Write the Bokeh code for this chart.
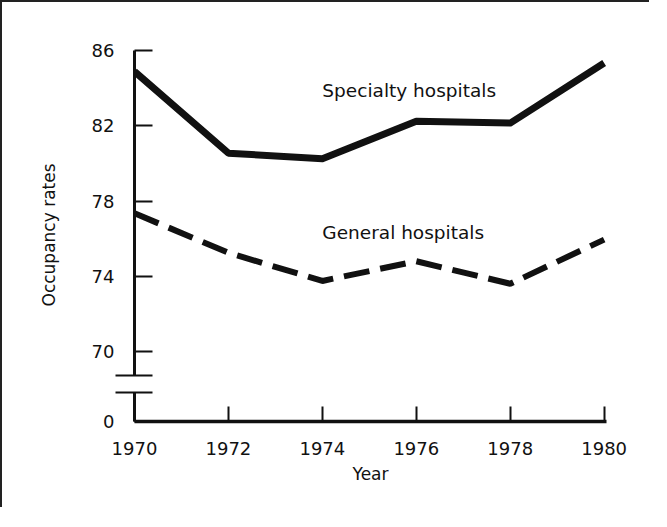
from bokeh.plotting import figure
from bokeh.models import FixedTicker, Range1d
from bokeh.embed import file_html
from bokeh.resources import INLINE
from bokeh.core.properties import value

# ---- data ----
years = [1970, 1972, 1974, 1976, 1978, 1980]
specialty = [84.9, 80.55, 80.25, 82.25, 82.15, 85.35]
general = [77.35, 75.25, 73.75, 74.8, 73.6, 75.95]
y_ticks = [70, 74, 78, 82, 86]
y_tick_labels = ["70", "74", "78", "82", "86"]
x_tick_labels = ["1970", "1972", "1974", "1976", "1978", "1980"]
zero_label = "0"
series_labels = ["Specialty hospitals", "General hospitals"]
label_x = [1974.0, 1974.0]
label_y = [83.9, 76.35]

# broken-axis layout (value 0 drawn just below the break)
ZERO = 66.27
BREAK_HI, BREAK_LO = 68.72, 67.82
FONT = "DejaVu Sans"
INK = "#111111"

p = figure(width=649, height=507,
           x_range=Range1d(1970, 1980.05), y_range=Range1d(ZERO, 86.12),
           output_backend="svg", toolbar_location=None,
           min_border_left=132, min_border_right=45,
           min_border_top=46, min_border_bottom=88)
p.outline_line_color = None
p.grid.visible = False
p.background_fill_color = "white"
p.border_fill_color = "white"
p.styles = {"border-top": "2px solid #222", "border-left": "2px solid #222"}

yt = [ZERO] + y_ticks
p.yaxis.ticker = FixedTicker(ticks=yt, minor_ticks=[BREAK_LO, BREAK_HI])
ov = {ZERO: zero_label}
ov.update({t: l for t, l in zip(y_ticks, y_tick_labels)})
p.yaxis.major_label_overrides = ov
p.xaxis.ticker = FixedTicker(ticks=years)
p.xaxis.major_label_overrides = {y: l for y, l in zip(years, x_tick_labels)}

for ax in (p.xaxis[0], p.yaxis[0]):
    ax.axis_line_color = INK
    ax.axis_line_width = 3
    ax.major_tick_out = 0
    ax.major_tick_line_color = INK
    ax.major_tick_line_width = 2
    ax.major_label_text_font = FONT
    ax.major_label_text_font_size = "18px"
    ax.major_label_text_color = INK
    ax.axis_label_text_font = FONT
    ax.axis_label_text_font_size = "17px"
    ax.axis_label_text_font_style = "normal"
    ax.axis_label_text_color = INK

p.xaxis.minor_tick_line_color = None

# y axis: gap in the line at the break, break marks as minor ticks
p.yaxis.bounds = (ZERO, 86)
p.yaxis.axis_line_dash = "29 17 330"
p.yaxis.major_tick_in = 18
p.yaxis.minor_tick_in = 18
p.yaxis.minor_tick_out = 19
p.yaxis.minor_tick_line_width = 2
p.yaxis.minor_tick_line_color = INK
p.yaxis.major_label_standoff = 1
p.yaxis.axis_label = "Occupancy rates"
p.yaxis.axis_label_standoff = 30

p.xaxis.axis_line_width = 3.5
p.xaxis.major_tick_in = 15
p.xaxis.major_label_standoff = 20
p.xaxis.axis_label = "Year"
p.xaxis.axis_label_standoff = 6

# series
p.line(years, specialty, line_width=7, line_color=INK, line_join="round")
p.line(years, general, line_width=6, line_color=INK, line_dash="26 11")

p.text(x=label_x, y=label_y, text=series_labels, text_font=value(FONT),
       text_font_size="18.5px", text_baseline="middle", text_align="left",
       text_color=INK)

open("out.html", "w").write(file_html(p, INLINE))
